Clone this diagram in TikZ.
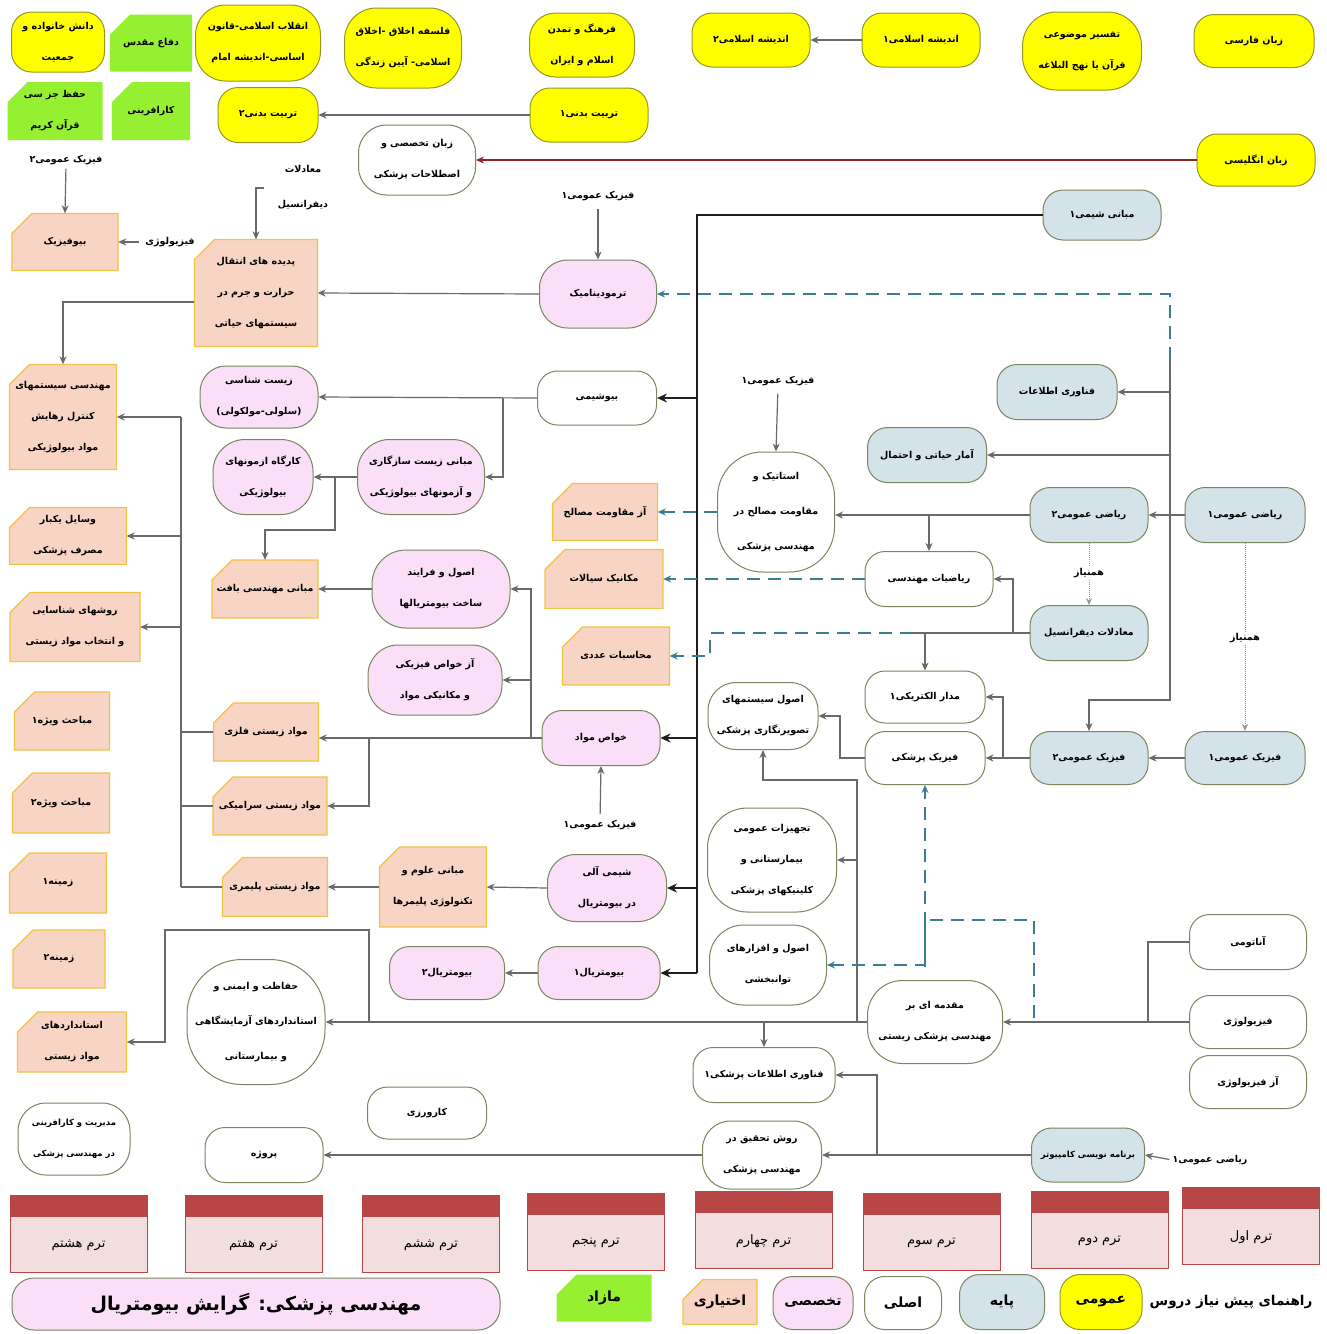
\documentclass[tikz,border=0pt]{standalone}
\usepackage{fontspec}
\newfontfamily\fa[Script=Arabic]{DejaVu Sans}
\TeXXeTstate=1
\usetikzlibrary{arrows.meta}
\definecolor{yelf}{RGB}{255,255,0}
\definecolor{yelb}{RGB}{150,150,40}
\definecolor{rbd}{RGB}{120,135,95}
\definecolor{bluf}{RGB}{212,226,234}
\definecolor{pnkf}{RGB}{251,222,247}
\definecolor{pchf}{RGB}{248,212,196}
\definecolor{pchb}{RGB}{240,196,70}
\definecolor{grnf}{RGB}{150,240,50}
\definecolor{lg}{RGB}{105,105,105}
\definecolor{bk}{RGB}{30,30,30}
\definecolor{tl}{RGB}{60,125,150}
\definecolor{rdl}{RGB}{140,40,40}
\definecolor{trm}{RGB}{185,70,70}
\definecolor{trmf}{RGB}{242,222,222}
\newcommand\RL[1]{\beginR #1\endR}
\tikzset{
  base/.style={inner sep=0pt, align=center, font=\fa\bfseries\fontsize{9.5}{31}\selectfont},
  rr/.style={base, draw=rbd, line width=1pt, rounded corners=20pt},
  yel/.style={rr, fill=yelf, draw=yelb},
  blu/.style={rr, fill=bluf},
  pnk/.style={rr, fill=pnkf},
  wht/.style={rr, fill=white},
  sz/.style 2 args={minimum width=#1pt, minimum height=#2pt},
  lbl/.style={base},
  pch/.style={fill=pchf, draw=pchb, line width=1.3pt},
  grn/.style={fill=grnf, draw=none},
  ln/.style={draw=lg, line width=1.2pt},
  ar/.style={ln, -{Stealth[length=8pt,width=7pt]}},
  bus/.style={draw=bk, line width=1.5pt},
  busar/.style={bus, -{Stealth[length=10pt,width=9pt]}},
  dsh/.style={draw=tl, line width=1.3pt, dash pattern=on 13pt off 8pt},
  dshar/.style={dsh, -{Stealth[length=8pt,width=7pt]}},
  dot/.style={draw=lg!70, line width=1pt, densely dotted},
  dotar/.style={dot, -{Stealth[length=7pt,width=6pt]}},
  redar/.style={draw=rdl, line width=1.2pt, -{Stealth[length=8pt,width=7pt]}},
}
% chamfered box: name, x, y, w, h, style, text
\newcommand\chn[7]{%
  \filldraw[#6] ({#2-#4/2},{#3-#5/2+20}) -- ({#2-#4/2+20},{#3-#5/2}) -- ({#2+#4/2},{#3-#5/2}) -- ({#2+#4/2},{#3+#5/2}) -- ({#2-#4/2},{#3+#5/2}) -- cycle;
  \node[base, sz={#4}{#5}] (#1) at (#2,#3) {#7};}
% term box: name, cx, ytop, text
\newcommand\trm[4]{%
  \filldraw[fill=trmf, draw=trm, line width=1pt] ({#2-68.5},#3) rectangle ({#2+68.5},{#3+77});
  \fill[trm] ({#2-68.5},#3) rectangle ({#2+68.5},{#3+22});
  \node[base, font=\fa\fontsize{13}{16}\selectfont] (#1) at (#2,{#3+50}) {\RL{#4}};}
\begin{document}
\begin{tikzpicture}[x=1pt,y=-1pt]
\useasboundingbox[fill=white] (0,0) rectangle (1327,1334);

% ---------- top rows ----------
\node[yel, sz={93}{60}] (dkh) at (58,42) {\RL{دانش خانواده و}\\\RL{جمعیت}};
\chn{def}{151}{43}{82}{57}{grn}{\RL{دفاع مقدس}}
\node[yel, sz={125}{76}, rounded corners=30pt] (enq) at (258,43) {\RL{انقلاب اسلامی-قانون}\\\RL{اساسی-اندیشه امام}};
\node[yel, sz={117}{80}, rounded corners=32pt] (fal) at (403,48) {\RL{فلسفه اخلاق -اخلاق}\\\RL{اسلامی- آیین زندگی}};
\node[yel, sz={105}{64}, rounded corners=26pt] (farh) at (582,45) {\RL{فرهنگ و تمدن}\\\RL{اسلام و ایران}};
\node[yel, sz={118}{54}] (and2) at (751,40) {\RL{اندیشه اسلامی۲}};
\node[yel, sz={118}{54}] (and1) at (921,40) {\RL{اندیشه اسلامی۱}};
\node[yel, sz={119}{78}, rounded corners=34pt] (tafs) at (1082,51) {\RL{تفسیر موضوعی}\\\RL{قرآن یا نهج البلاغه}};
\node[yel, sz={120}{53}] (zf) at (1254,41) {\RL{زبان فارسی}};
\chn{hfz}{55}{111}{95}{58}{grn}{\RL{حفظ جز سی}\\\RL{قرآن کریم}}
\chn{kaf}{151}{111}{78}{58}{grn}{\RL{کارافرینی}}
\node[yel, sz={100}{55}] (tb2) at (268,115) {\RL{تربیت بدنی۲}};
\node[yel, sz={118}{54}] (tb1) at (589,115) {\RL{تربیت بدنی۱}};
\node[wht, sz={117}{70}, rounded corners=28pt] (zt) at (417,160) {\RL{زبان تخصصی و}\\\RL{اصطلاحات پزشکی}};
\node[yel, sz={118}{52}] (eng) at (1256,160) {\RL{زبان انگلیسی}};

% ---------- labels ----------
\node[lbl] (lfz2) at (66,160) {\RL{فیزیک عمومی۲}};
\node[lbl, font=\fa\bfseries\fontsize{9.5}{35}\selectfont] (lmd) at (303,188) {\RL{معادلات}\\\RL{دیفرانسیل}};
\node[lbl] (lf1a) at (598,196) {\RL{فیزیک عمومی۱}};
\node[lbl] (lfiz) at (170,242) {\RL{فیزیولوژی}};
\node[lbl] (lf1b) at (778,381) {\RL{فیزیک عمومی۱}};
\node[lbl] (lf1c) at (600,825) {\RL{فیزیک عمومی۱}};
\node[lbl] (lr1) at (1210,1160) {\RL{ریاضی عمومی۱}};

% ---------- blue (basic) ----------
\node[blu, sz={118}{50}] (shimi) at (1102,215) {\RL{مبانی شیمی۱}};
\node[blu, sz={120}{55}] (fan) at (1057,392) {\RL{فناوری اطلاعات}};
\node[blu, sz={119}{55}] (amar) at (927,455) {\RL{آمار حیاتی و احتمال}};
\node[blu, sz={118}{55}] (r2) at (1089,515) {\RL{ریاضی عمومی۲}};
\node[blu, sz={120}{55}] (r1) at (1245,515) {\RL{ریاضی عمومی۱}};
\node[blu, sz={118}{55}] (mdf) at (1089,633) {\RL{معادلات دیفرانسیل}};
\node[blu, sz={118}{53}] (fz2) at (1089,758) {\RL{فیزیک عمومی۲}};
\node[blu, sz={120}{53}] (f1) at (1245,758) {\RL{فیزیک عمومی۱}};
\node[blu, sz={113}{54}, font=\fa\bfseries\fontsize{8.5}{31}\selectfont] (barn) at (1088,1155) {\RL{برنامه نویسی کامپیوتر}};

% ---------- white (main) ----------
\node[wht, sz={119}{54}] (bios) at (597,398) {\RL{بیوشیمی}};
\node[wht, sz={117}{120}, rounded corners=45pt, font=\fa\bfseries\fontsize{9.5}{35}\selectfont] (stat) at (776,512) {\RL{استاتیک و}\\\RL{مقاومت مصالح در}\\\RL{مهندسی پزشکی}};
\node[wht, sz={128}{55}] (rm) at (929,579) {\RL{ریاضیات مهندسی}};
\node[wht, sz={120}{52}] (mad) at (925,697) {\RL{مدار الکتریکی۱}};
\node[wht, sz={120}{53}] (fp) at (925,758) {\RL{فیزیک پزشکی}};
\node[wht, sz={110}{67}, rounded corners=28pt] (ost) at (763,716) {\RL{اصول سیستمهای}\\\RL{تصویرنگاری پزشکی}};
\node[wht, sz={129}{104}, rounded corners=40pt] (tajh) at (772,860) {\RL{تجهیزات عمومی}\\\RL{بیمارستانی و}\\\RL{کلینیکهای پزشکی}};
\node[wht, sz={117}{80}, rounded corners=34pt] (otav) at (768,965) {\RL{اصول و افزارهای}\\\RL{توانبخشی}};
\node[wht, sz={135}{83}, rounded corners=35pt] (moq) at (935,1022) {\RL{مقدمه ای بر}\\\RL{مهندسی پزشکی زیستی}};
\node[wht, sz={117}{55}] (anat) at (1248,942) {\RL{آناتومی}};
\node[wht, sz={117}{53}] (fiz) at (1248,1022) {\RL{فیزیولوژی}};
\node[wht, sz={117}{53}] (azf) at (1248,1082) {\RL{آز فیزیولوژی}};
\node[wht, sz={142}{55}] (fip) at (764,1075) {\RL{فناوری اطلاعات پزشکی۱}};
\node[wht, sz={138}{125}, rounded corners=55pt, font=\fa\bfseries\fontsize{9.5}{35}\selectfont] (haf) at (256,1022) {\RL{حفاظت و ایمنی و}\\\RL{استانداردهای آزمایشگاهی}\\\RL{و بیمارستانی}};
\node[wht, sz={119}{68}, rounded corners=28pt] (rosh) at (762,1155) {\RL{روش تحقیق در}\\\RL{مهندسی پزشکی}};
\node[wht, sz={118}{55}] (proj) at (264,1155) {\RL{پروژه}};
\node[wht, sz={119}{52}] (karv) at (427,1113) {\RL{کارورزی}};
\node[wht, sz={112}{72}, rounded corners=28pt, font=\fa\bfseries\fontsize{8.5}{31}\selectfont] (mod) at (74,1139) {\RL{مدیریت و کارافرینی}\\\RL{در مهندسی پزشکی}};

% ---------- pink (specialized) ----------
\node[pnk, sz={117}{68}, rounded corners=28pt] (thermo) at (598,294) {\RL{ترمودینامیک}};
\node[pnk, sz={118}{62}, rounded corners=26pt] (zist) at (259,397) {\RL{زیست شناسی}\\\RL{(سلولی-مولکولی)}};
\node[pnk, sz={100}{75}, rounded corners=32pt] (kar) at (263,477) {\RL{کارگاه ازمونهای}\\\RL{بیولوژیکی}};
\node[pnk, sz={127}{75}, rounded corners=32pt] (mzs) at (421,477) {\RL{مبانی زیست سازگاری}\\\RL{و آزمونهای بیولوژیکی}};
\node[pnk, sz={138}{78}, rounded corners=34pt] (osul) at (441,589) {\RL{اصول و فرایند}\\\RL{ساخت بیومتریالها}};
\node[pnk, sz={134}{70}, rounded corners=30pt] (azkh) at (435,680) {\RL{آز خواص فیزیکی}\\\RL{و مکانیکی مواد}};
\node[pnk, sz={118}{55}] (khaw) at (601,738) {\RL{خواص مواد}};
\node[pnk, sz={119}{67}, rounded corners=28pt] (shal) at (607,888) {\RL{شیمی آلی}\\\RL{در بیومتریال}};
\node[pnk, sz={122}{53}] (bm1) at (599,973) {\RL{بیومتریال۱}};
\node[pnk, sz={115}{53}] (bm2) at (447,973) {\RL{بیومتریال۲}};

% ---------- peach (elective) ----------
\chn{biof}{65}{242}{106}{57}{pch}{\RL{بیوفیزیک}}
\chn{pad}{256}{293}{123}{107}{pch}{\RL{پدیده های انتقال}\\\RL{حرارت و جرم در}\\\RL{سیستمهای حیاتی}}
\chn{mhs}{63}{417}{107}{105}{pch}{\RL{مهندسی سیستمهای}\\\RL{کنترل رهایش}\\\RL{مواد بیولوژیکی}}
\chn{vas}{68}{536}{117}{57}{pch}{\RL{وسایل یکبار}\\\RL{مصرف پزشکی}}
\chn{ravsh}{75}{627}{130}{69}{pch}{\RL{روشهای شناسایی}\\\RL{و انتخاب مواد زیستی}}
\chn{bft}{265}{589}{106}{58}{pch}{\RL{مبانی مهندسی بافت}}
\chn{azm}{605}{512}{105}{57}{pch}{\RL{آز مقاومت مصالح}}
\chn{mek}{604}{579}{118}{59}{pch}{\RL{مکانیک سیالات}}
\chn{mohas}{616}{656}{107}{58}{pch}{\RL{محاسبات عددی}}
\chn{mv1}{62}{721}{95}{58}{pch}{\RL{مباحث ویژه۱}}
\chn{mv2}{61}{803}{97}{60}{pch}{\RL{مباحث ویژه۲}}
\chn{zm1}{58}{883}{97}{60}{pch}{\RL{زمینه۱}}
\chn{zm2}{59}{959}{92}{58}{pch}{\RL{زمینه۲}}
\chn{std}{72}{1042}{109}{60}{pch}{\RL{استانداردهای}\\\RL{مواد زیستی}}
\chn{felz}{266}{732}{105}{58}{pch}{\RL{مواد زیستی فلزی}}
\chn{seram}{270}{806}{114}{58}{pch}{\RL{مواد زیستی سرامیکی}}
\chn{polm}{275}{887}{105}{59}{pch}{\RL{مواد زیستی پلیمری}}
\chn{polsci}{433}{887}{107}{80}{pch}{\RL{مبانی علوم و}\\\RL{تکنولوژی پلیمرها}}

% ---------- co-requisite labels ----------
\node[lbl, fill=white, inner sep=2pt] (hm1) at (1089,573) {\RL{همنیاز}};
\node[lbl, fill=white, inner sep=2pt] (hm2) at (1245,638) {\RL{همنیاز}};

% ---------- connectors ----------
\draw[ar] (and1.west) -- (and2.east);
\draw[ar] (tb1.west) -- (tb2.east);
\draw[redar] (eng.west) -- (zt.east);
\draw[ar, shorten <=4pt] (lfz2.south) -- (biof.north);
\draw[ar, shorten <=6pt] (lfiz.west) -- (biof.east);
\draw[ar, shorten <=14pt] (lmd.west) -| (pad.north);
\draw[ar, shorten <=8pt] (lf1a.south) -- (thermo.north);
\draw[ar] (thermo.west) -- (pad.east);
\draw[ar] ([yshift=-9pt]pad.west) -| (mhs.north);

% black bus from mabani shimi
\coordinate (bx) at (697,215);
\draw[bus] (shimi.west) -- (bx) -- (bx |- bm1.east);
\draw[busar] (bx |- bios.east) -- (bios.east);
\draw[busar] (bx |- khaw.east) -- (khaw.east);
\draw[busar] (bx |- shal.east) -- (shal.east);
\draw[busar] (bx |- bm1.east) -- (bm1.east);

\draw[ar] (bios.west) -- (zist.east);
\coordinate (j1) at (503,398);
\draw[ar] (j1) |- (mzs.east);
\draw[ar] (mzs.west) -- (kar.east);
\coordinate (j2) at (335,477);
\draw[ar] (j2) -- (335,530) -| (bft.north);
\draw[ar] (osul.west) -- (bft.east);
\coordinate (j3) at (531,738);
\draw[ar] (j3) |- (osul.east);
\draw[ar] (j3) |- (azkh.east);
\draw[ar] (khaw.west) -- (khaw.west -| felz.east);
\coordinate (j4) at (369,738);
\draw[ar] (j4) |- (seram.east);
\draw[ar, shorten <=6pt] (lf1c.north) -- (khaw.south);
\draw[ar] (polsci.west) -- (polm.east);
\draw[ar] (shal.west) -- (polsci.east);
\draw[ar] (bm1.west) -- (bm2.east);

% left bus
\coordinate (lb) at (181,417);
\draw[ln] (lb) -- (lb |- polm.west);
\draw[ar] (lb |- mhs.east) -- (mhs.east);
\draw[ar] (lb |- vas.east) -- (vas.east);
\draw[ar] (lb |- ravsh.east) -- (ravsh.east);
\draw[ln] (felz.west) -- (lb |- felz.west);
\draw[ln] (seram.west) -- (lb |- seram.west);
\draw[ln] (polm.west) -- (lb |- polm.west);

% statics / math
\draw[ar, shorten <=8pt] (lf1b.south) -- (stat.north);
\draw[dshar] (stat.west) -- (azm.east);
\draw[dshar] (rm.west) -- (mek.east);
\draw[ar] (r1.west) -- (r2.east);
\draw[ar] (r2.west) -- (stat.east |- r2.west);
\draw[ar] (rm.north |- r2.west) -- (rm.north);
\coordinate (rx) at (1170,350);
\draw[ar] (rx) -- (1170,700) -| (fz2.north);
\draw[ar] (rx |- fan.east) -- (fan.east);
\draw[ar] (rx |- amar.east) -- (amar.east);
\draw[dshar] (1170,360) |- (thermo.east);
\draw[dot] (r2.south) -- (hm1.north);
\draw[dotar] (hm1.south) -- (mdf.north);
\draw[dot] (r1.south) -- (hm2.north);
\draw[dotar] (hm2.south) -- (f1.north);

\coordinate (m1) at (913,633);
\draw[ln] (mdf.west) -- (m1);
\draw[dshar] (m1) -- (710,633) |- (mohas.east);
\draw[ar] (1013,633) |- (rm.east);
\draw[ar] (mad.north |- mdf.west) -- (mad.north);

% physics
\draw[ar] (f1.west) -- (fz2.east);
\draw[ar] (fz2.west) -- (fp.east);
\draw[ar] (1003,758) |- (mad.east);
\draw[ar] (fp.west) -- (840,758) |- (ost.east);

% introduction
\draw[ar] (fiz.west) -- (moq.east);
\draw[ln] (anat.west) -| (1148,1022);
\draw[ar] (moq.west) -- (haf.east);
\draw[ar] (369,1022) |- (165,930) |- (std.east);
\draw[ar] (857,1022) -- (857,780) -| (ost.south);
\draw[ar] (857,860) -- (tajh.east);
\draw[ar] (fip.north |- moq.west) -- (fip.north);
\draw[dsh] (1034,1018) |- (925,920);
\draw[dshar] (925,967) -- (fp.south);
\draw[dshar] (925,920) |- (otav.east);

% programming
\draw[ar, shorten <=3pt] (lr1.west) -- (barn.east);
\draw[ar] (barn.west) -- (rosh.east);
\draw[ar] (877,1155) |- (fip.east);
\draw[ar] (rosh.west) -- (proj.east);

% ---------- terms ----------
\trm{t8}{78.5}{1195}{ترم هشتم}
\trm{t7}{253.5}{1195}{ترم هفتم}
\trm{t6}{431}{1195}{ترم ششم}
\trm{t5}{596}{1193}{ترم پنجم}
\trm{t4}{763.5}{1191}{ترم چهارم}
\trm{t3}{931.5}{1193}{ترم سوم}
\trm{t2}{1099.5}{1191}{ترم دوم}
\trm{t1}{1251}{1187}{ترم اول}

% ---------- legend ----------
\node[pnk, sz={488}{52}, rounded corners=22pt, font=\fa\bfseries\fontsize{19}{24}\selectfont] (title) at (256,1304) {\RL{مهندسی پزشکی: گرایش بیومتریال}};
\chn{maz}{604}{1298}{95}{47}{grn}{\fontsize{14}{16}\selectfont\RL{مازاد}}
\chn{ekh}{720}{1302}{74}{45}{pch}{\fontsize{14}{16}\selectfont\RL{اختیاری}}
\node[pnk, sz={80}{53}, font=\fa\bfseries\fontsize{14}{16}\selectfont] (takh) at (813,1303) {\RL{تخصصی}};
\node[wht, sz={77}{53}, font=\fa\bfseries\fontsize{14}{16}\selectfont] (asl) at (903,1303) {\RL{اصلی}};
\node[blu, sz={85}{55}, font=\fa\bfseries\fontsize{14}{16}\selectfont] (paye) at (1002,1302) {\RL{پایه}};
\node[yel, sz={82}{55}, font=\fa\bfseries\fontsize{14}{16}\selectfont] (omu) at (1101,1302) {\RL{عمومی}};
\node[lbl, font=\fa\bfseries\fontsize{13.5}{18}\selectfont] (rahn) at (1231,1302) {\RL{راهنمای پیش نیاز دروس}};
\end{tikzpicture}
\end{document}
